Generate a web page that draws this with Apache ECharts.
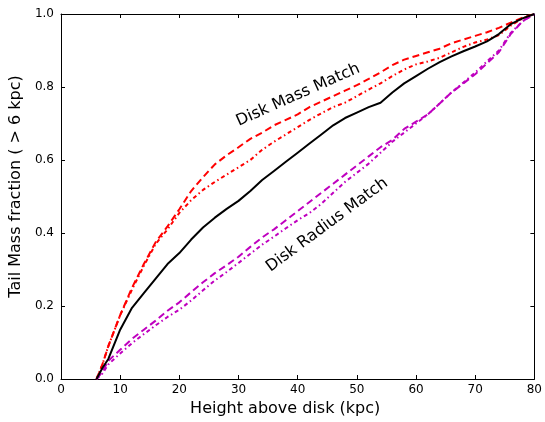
<!DOCTYPE html>
<html>
<head>
<meta charset="utf-8">
<script src="https://cdn.jsdelivr.net/npm/echarts@6/dist/echarts.min.js"></script>
<style>html,body{margin:0;padding:0;background:#fff}#c{width:545px;height:422px}</style>
</head>
<body>
<div id="c"></div>
<script>
var heights = [6,7,8,10,12,14,16,18,20,22,24,26,28,30,32,34,36,38,40,42,44,46,48,50,52,54,56,58,60,62,64,66,68,70,72,74,76,78,80];
var blackSolid = [0,0.03,0.055,0.135,0.195,0.235,0.275,0.315,0.345,0.382,0.415,0.442,0.466,0.488,0.515,0.545,0.57,0.595,0.62,0.645,0.67,0.695,0.715,0.73,0.745,0.757,0.785,0.81,0.83,0.85,0.868,0.884,0.898,0.911,0.925,0.945,0.972,0.988,1.0];
var redDashed = [0,0.04,0.09,0.175,0.25,0.315,0.375,0.418,0.465,0.515,0.553,0.588,0.613,0.635,0.658,0.675,0.695,0.71,0.725,0.745,0.76,0.775,0.79,0.805,0.822,0.84,0.86,0.875,0.885,0.895,0.905,0.92,0.93,0.94,0.95,0.962,0.976,0.99,1.0];
var redDashDot = [0,0.04,0.09,0.175,0.245,0.31,0.37,0.41,0.455,0.49,0.518,0.54,0.56,0.58,0.6,0.628,0.65,0.67,0.69,0.71,0.728,0.745,0.757,0.775,0.793,0.81,0.83,0.848,0.862,0.87,0.88,0.895,0.91,0.922,0.93,0.942,0.968,0.988,1.0];
var magDashed = [0,0.02,0.05,0.08,0.11,0.135,0.16,0.187,0.21,0.238,0.265,0.29,0.312,0.335,0.362,0.388,0.41,0.435,0.46,0.485,0.51,0.535,0.56,0.585,0.61,0.635,0.655,0.685,0.705,0.725,0.755,0.785,0.81,0.835,0.865,0.895,0.945,0.98,1.0];
var magDashDot = [0,0.015,0.04,0.07,0.098,0.123,0.147,0.17,0.19,0.215,0.243,0.27,0.293,0.318,0.343,0.368,0.39,0.413,0.435,0.455,0.48,0.51,0.54,0.565,0.59,0.62,0.65,0.675,0.7,0.725,0.755,0.785,0.812,0.84,0.87,0.9,0.948,0.98,1.0];
var xTicks = [0,10,20,30,40,50,60,70,80];
var yTicks = [0.0,0.2,0.4,0.6,0.8,1.0];
var labels = ["Disk Mass Match", "Disk Radius Match"];

function pairs(ys){ return heights.map(function(h,i){ return [h, ys[i]]; }); }
var FONT = '"DejaVu Sans", sans-serif';
var axisCol = '#000';
function xa(pos, show){
  return {type:'value', position:pos, min:xTicks[0], max:xTicks[xTicks.length-1], interval:xTicks[1]-xTicks[0],
    axisLine:{show:true, onZero:false, lineStyle:{color:axisCol, width:1}},
    axisTick:{show:true, inside:true, length:4, lineStyle:{color:axisCol}},
    axisLabel:{show:show, color:'#000', fontSize:12, fontFamily:FONT, margin:5},
    splitLine:{show:false},
    name: show ? 'Height above disk (kpc)' : '', nameLocation:'middle', nameGap:22,
    nameTextStyle:{color:'#000', fontSize:16, fontFamily:FONT, padding:[0,25,0,0]}};
}
function ya(pos, show){
  return {type:'value', position:pos, min:yTicks[0], max:yTicks[yTicks.length-1], interval:0.2,
    axisLine:{show:true, onZero:false, lineStyle:{color:axisCol, width:1}},
    axisTick:{show:true, inside:true, length:4, lineStyle:{color:axisCol}},
    axisLabel:{show:show, color:'#000', fontSize:12, fontFamily:FONT, margin:7,
      formatter:function(v){ return v.toFixed(1); }},
    splitLine:{show:false},
    name: show ? 'Tail Mass fraction ( > 6 kpc)' : '', nameLocation:'middle', nameGap:31,
    nameTextStyle:{color:'#000', fontSize:16, fontFamily:FONT, padding:[0,0,0,20]}};
}
function line(name, ys, color, type){
  return {name:name, type:'line', data:pairs(ys), showSymbol:false, symbol:'none', animation:false,
    lineStyle:{color:color, width:2, type:type}, z:3};
}
var chart = echarts.init(document.getElementById('c'), null, {renderer:'canvas'});
chart.setOption({
  animation:false,
  grid:{left:61, right:9, top:14, bottom:40},
  xAxis:[xa('bottom', true), xa('top', false)],
  yAxis:[ya('left', true), ya('right', false)],
  series:[
    line('redDashed', redDashed, '#ff0000', [7,4]),
    line('redDashDot', redDashDot, '#ff0000', [4,3,1.5,3]),
    line('magDashed', magDashed, '#bf00bf', [7,4]),
    line('magDashDot', magDashDot, '#bf00bf', [4,3,1.5,3]),
    line('blackSolid', blackSolid, '#000000', 'solid')
  ],
  graphic:[
    {type:'text', x:298, y:95, rotation:24*Math.PI/180, z:10,
      style:{text:labels[0], fill:'#000', font:'16px "DejaVu Sans", sans-serif', align:'center', verticalAlign:'middle'}},
    {type:'text', x:327, y:225, rotation:36.5*Math.PI/180, z:10,
      style:{text:labels[1], fill:'#000', font:'16px "DejaVu Sans", sans-serif', align:'center', verticalAlign:'middle'}}
  ]
});
</script>
</body>
</html>
